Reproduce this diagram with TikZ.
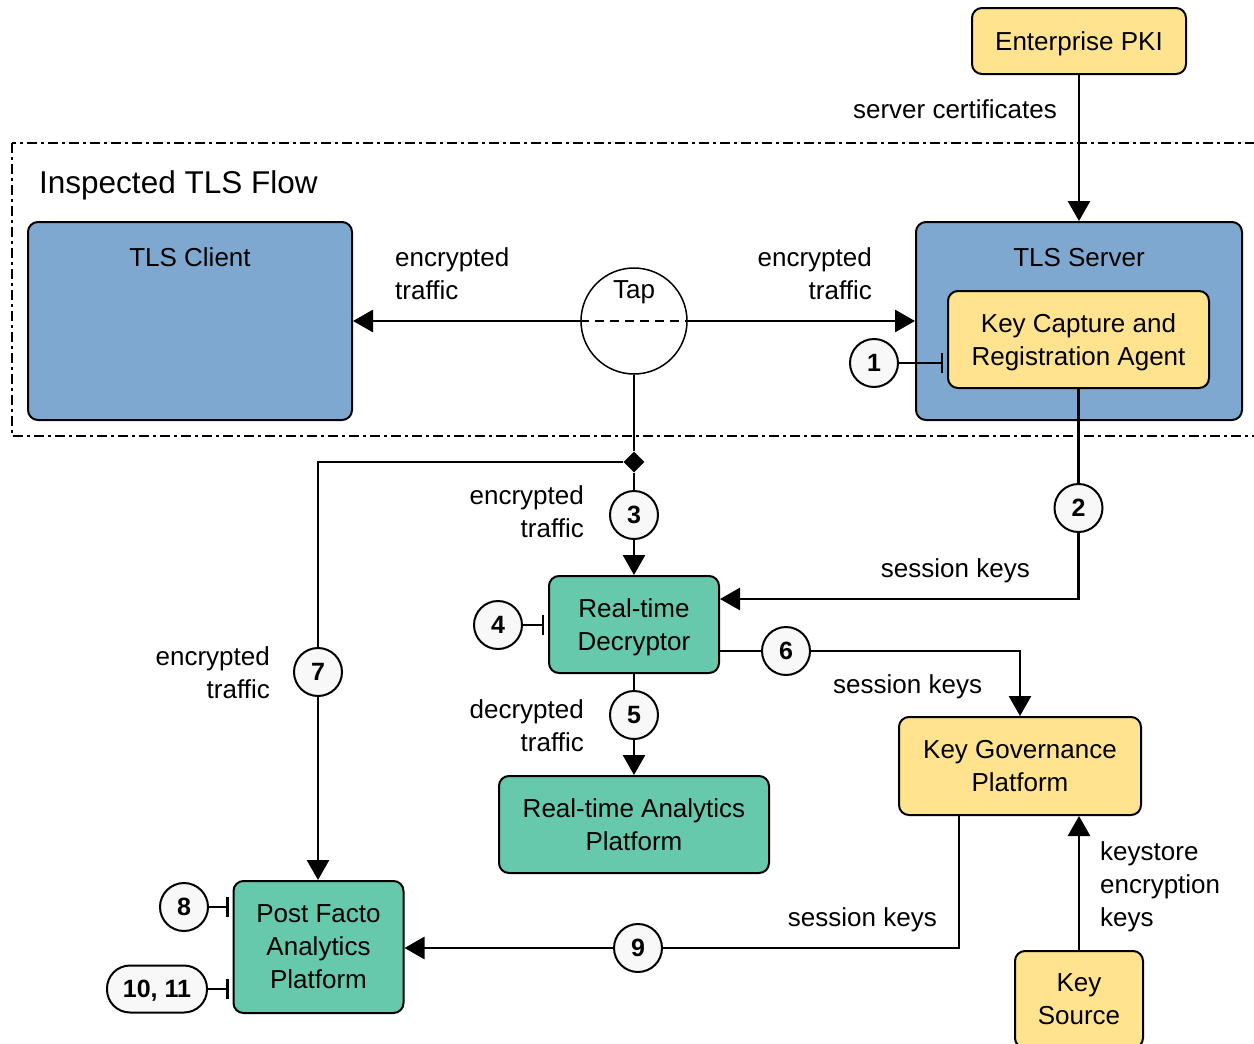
\documentclass[tikz,border=0pt]{standalone}
\usepackage{fontspec}
\setmainfont{Liberation Sans}
\usetikzlibrary{arrows.meta,shapes.geometric}
\definecolor{cblue}{HTML}{7EA8D0}
\definecolor{cyellow}{HTML}{FFE38F}
\definecolor{cgreen}{HTML}{67C9AC}
\definecolor{cmark}{HTML}{F8F8F8}
\begin{document}
\begin{tikzpicture}[x=1pt,y=-1pt,
  font=\fontsize{26}{33}\selectfont,
  every node/.style={text depth=0pt},
  box/.style={draw=black, line width=2pt, rounded corners=10pt, inner sep=0pt, align=center},
  bluebox/.style={box, fill=cblue},
  ybox/.style={box, fill=cyellow},
  gbox/.style={box, fill=cgreen},
  numc/.style={circle, draw=black, line width=2pt, fill=cmark, minimum size=48pt, inner sep=0pt, font=\fontsize{25}{30}\selectfont\bfseries},
  pill/.style={rectangle, rounded corners=23pt, draw=black, line width=2pt, fill=cmark, minimum width=100pt, minimum height=47pt, inner sep=0pt, font=\fontsize{25}{30}\selectfont\bfseries},
  conn/.style={line width=2.8pt, -{Triangle[length=20pt,width=22pt]}},
  barc/.style={line width=2.8pt},
  plainc/.style={line width=2.8pt},
  lbl/.style={inner sep=0pt}
]
\useasboundingbox (0,0) rectangle (1254,1044);
\fill[white] (0,0) rectangle (1254,1044);

% frame
\draw[line width=1.5pt, dash pattern=on 10pt off 4pt on 3pt off 4pt] (12,143) rectangle (1275,436);
\node[lbl, anchor=west, font=\fontsize{31.5}{36}\selectfont] (title) at (39,182) {Inspected TLS Flow};

% boxes
\node[ybox, minimum width=214pt, minimum height=66pt] (pki) at (1079,41) {Enterprise PKI};
\node[bluebox, minimum width=324pt, minimum height=198pt] (client) at (190,321) {};
\node[lbl] (clientt) at (190,257) {TLS Client};
\node[bluebox, minimum width=326pt, minimum height=198pt] (server) at (1079,321) {};
\node[lbl] (servert) at (1079,257) {TLS Server};
\node[ybox, minimum width=261pt, minimum height=97pt] (kc) at (1078.5,339.5) {Key Capture and\\Registration Agent};
\node[circle, draw=black, line width=1.5pt, fill=white, minimum size=106pt, inner sep=0pt] (tap) at (634,321) {};
\node[lbl] (tapt) at (634,290) {Tap};
\draw[line width=2.5pt, dash pattern=on 9pt off 6pt] (tap.west) -- (tap.east);

\node[gbox, minimum width=170pt, minimum height=97pt] (dec) at (634,624.5) {Real-time\\Decryptor};
\node[gbox, minimum width=270pt, minimum height=97pt] (rta) at (634,824.5) {Real-time Analytics\\Platform};
\node[ybox, minimum width=242pt, minimum height=98pt] (kgp) at (1020,766) {Key Governance\\Platform};
\node[ybox, minimum width=128pt, minimum height=97pt] (ks) at (1079,999.5) {Key\\Source};
\node[gbox, minimum width=170pt, minimum height=132pt] (pf) at (318.5,947) {Post Facto\\Analytics\\Platform};

\node[diamond, fill=black, minimum size=21pt, inner sep=0pt] (dia) at (634,462) {};

% markers
\node[numc] (m1) at (874,363) {1};
\node[numc] (m2) at (1078.5,508) {2};
\node[numc] (m3) at (634,515) {3};
\node[numc] (m4) at (498,625) {4};
\node[numc] (m5) at (634,715) {5};
\node[numc] (m6) at (786,651) {6};
\node[numc] (m7) at (318,672) {7};
\node[numc] (m8) at (184,907) {8};
\node[numc] (m9) at (638,948) {9};
\node[pill] (m10) at (157,989) {10, 11};

% connectors
\draw[conn] (pki.south) -- (server.north);
\draw[conn] (tap.west) -- (client.east);
\draw[conn] (tap.east) -- (server.west);
\draw[barc] (m1.east) -- ([xshift=-5pt]m1 -| kc.west) +(0,-10) -- +(0,10);
\draw[plainc] (tap.south) -- (dia.north);
\draw[plainc] (dia.south) -- (m3.north);
\draw[conn] (m3.south) -- (dec.north);
\draw[plainc] (dia.west) -| (m7.north);
\draw[conn] (m7.south) -- (m7 |- pf.north);
\draw[plainc] (kc.south) -- (m2.north);
\draw[conn] (m2.south) |- ([yshift=25.5pt]dec.east);
\draw[barc] (m4.east) -- ([xshift=-5pt]m4 -| dec.west) +(0,-10) -- +(0,10);
\draw[plainc] ([yshift=-26.5pt]dec.east) -- (m6.west);
\draw[conn] (m6.east) -| (kgp.north);
\draw[plainc] (dec.south) -- (m5.north);
\draw[conn] (m5.south) -- (rta.north);
\draw[conn] (ks.north) -- (ks.north |- kgp.south);
\draw[plainc] ([xshift=-61pt]kgp.south) |- (m9.east);
\draw[conn] (m9.west) -- (m9 -| pf.east);
\draw[barc] (m8.east) -- ([xshift=-5pt]m8 -| pf.west) +(0,-10) -- +(0,10);
\draw[barc] (m10.east) -- ([xshift=-5pt]m10 -| pf.west) +(0,-10) -- +(0,10);

% labels
\node[lbl, anchor=east] (l0) at (1057,109) {server certificates};
\node[lbl, anchor=west, align=left] (l1) at (395,273.5) {encrypted\\traffic};
\node[lbl, anchor=east, align=right] (l2) at (872,273.5) {encrypted\\traffic};
\node[lbl, anchor=east, align=right] (l3) at (584,512) {encrypted\\traffic};
\node[lbl, anchor=east] (l4) at (1030,568) {session keys};
\node[lbl, anchor=east, align=right] (l5) at (270,673) {encrypted\\traffic};
\node[lbl, anchor=west] (l6) at (833,684) {session keys};
\node[lbl, anchor=east, align=right] (l7) at (584,726) {decrypted\\traffic};
\node[lbl, anchor=west, align=left] (l8) at (1100,884) {keystore\\encryption\\keys};
\node[lbl, anchor=east] (l9) at (937,917) {session keys};
\end{tikzpicture}
\end{document}
